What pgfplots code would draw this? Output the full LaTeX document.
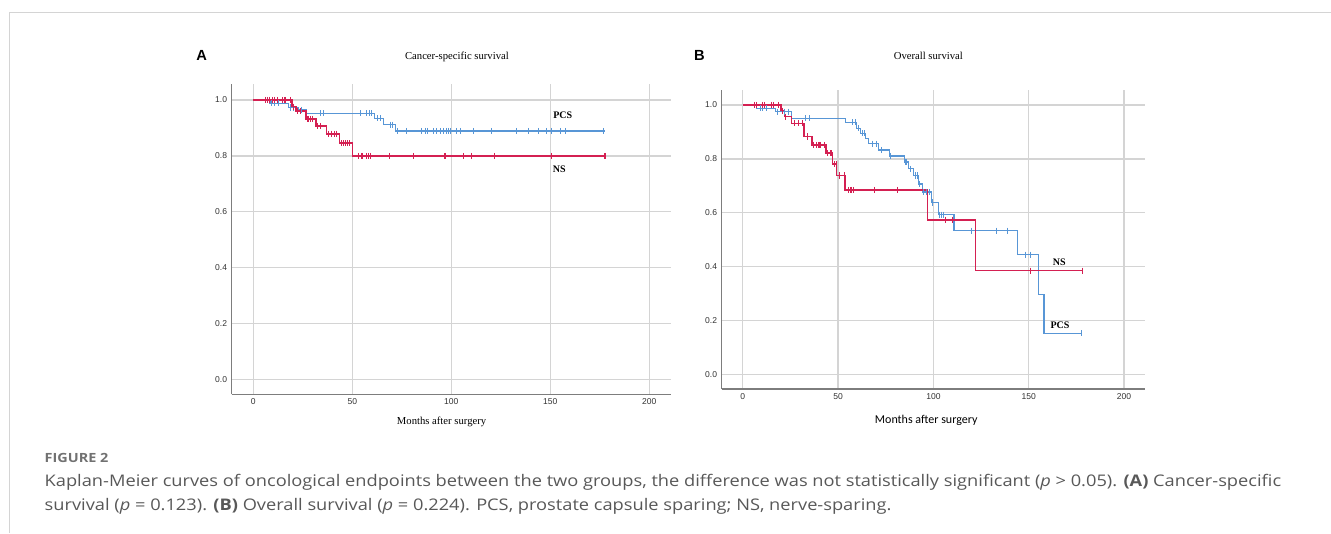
\documentclass[border=0pt]{standalone}
\usepackage{fontspec}
\setmainfont{Liberation Serif}
\newfontfamily\arialfont{Liberation Sans}
\newfontfamily\capfont[FakeStretch=1.14]{Open Sans}
\newfontfamily\calfont{Carlito}
\usepackage{pgfplots}
\pgfplotsset{compat=1.18}

\definecolor{pcsblue}{RGB}{88,150,214}
\definecolor{nsred}{RGB}{212,32,82}
\definecolor{gridgray}{RGB}{212,212,212}
\definecolor{axgray}{RGB}{125,125,125}
\definecolor{capgray}{RGB}{88,88,88}

\tikzset{grplabel/.style={font=\rmfamily\bfseries\fontsize{7.5}{8}\selectfont}}
\pgfplotsset{
  kmaxis/.style={
    scale only axis,
    axis x line=bottom, axis y line=left,
    axis line style={-, draw=axgray, line width=0.8pt},
    grid=major, major grid style={draw=gridgray, line width=1.1pt},
    major tick length=0pt,
    xtick={0,50,100,150,200}, ytick={0,0.2,0.4,0.6,0.8,1},
    tick label style={font=\arialfont\fontsize{6.4}{7}\selectfont, text=black!80},
    /pgf/number format/assume math mode=true,
    yticklabel style={/pgf/number format/fixed,
      /pgf/number format/fixed zerofill, /pgf/number format/precision=1},
  },
  pcsline/.style={pcsblue, line width=0.9pt, const plot},
  nsline/.style={nsred, line width=1.15pt, const plot},
  pcscens/.style={only marks, mark=|, mark size=2.3pt, pcsblue,
    mark options={line width=0.65pt}},
  nscens/.style={only marks, mark=|, mark size=2.3pt, nsred,
    mark options={line width=0.8pt}},
}

\begin{document}
\begin{tikzpicture}
\path[use as bounding box] (0,0) rectangle (998.25pt,-399.75pt);
\draw[gridgray, line width=0.9pt] (6.975pt,-399.75pt) -- (6.975pt,-9.2pt) -- (998.25pt,-9.2pt);

% ---------------- panel A: cancer-specific survival
\node[font=\arialfont\bfseries\fontsize{11}{12}\selectfont] at (151.3pt,-41.25pt) {A};
\begin{axis}[kmaxis,
  at={(173.8pt,-295.7pt)}, anchor=south west,
  width=329.25pt, height=232.7pt,
  xmin=-10.9, xmax=210.8, ymin=-0.053, ymax=1.057,
  title={Cancer-specific survival},
  title style={font=\rmfamily\fontsize{8}{9}\selectfont,
    at={(axis description cs:0.513,1)}, anchor=center, yshift=14.25pt},
  xlabel={Months after surgery},
  xlabel style={font=\rmfamily\fontsize{8}{9}\selectfont,
    at={(axis description cs:0.478,0)}, anchor=center, yshift=-20.6pt},
]
\addplot[pcsline] coordinates {(0,1.0) (8.4,0.988) (17.7,0.973) (22.7,0.964)
  (27,0.952) (61,0.935) (65.7,0.911) (71.6,0.889) (177.7,0.889)};
\addplot[pcscens] coordinates {(9.3,0.988) (10.9,0.988) (12.6,0.988)
  (18.5,0.973) (20.3,0.973) (24.5,0.964)
  (33.7,0.952) (35.4,0.952) (53.9,0.952) (57.2,0.952) (58.4,0.952) (59.8,0.952)
  (62.8,0.935) (64.1,0.935) (69.0,0.911) (70.2,0.911)
  (72.7,0.889) (77.1,0.889) (85.0,0.889) (86.7,0.889) (87.9,0.889) (90.9,0.889)
  (92.4,0.889) (94.3,0.889) (96.0,0.889) (97.3,0.889) (98.5,0.889) (99.3,0.889)
  (102.8,0.889) (104.4,0.889) (111.0,0.889) (120.0,0.889) (132.8,0.889)
  (138.8,0.889) (144.0,0.889) (147.8,0.889) (150.7,0.889) (154.9,0.889)
  (157.5,0.889) (176.8,0.889)};
\addplot[nsline] coordinates {(0,1.0) (19.6,0.976) (21.5,0.96) (26.5,0.932)
  (31.7,0.907) (37,0.879) (43.6,0.845) (50.2,0.80) (177.6,0.80)};
\addplot[nscens] coordinates {(6.2,1) (7.3,1) (8.3,1) (9.8,1) (10.9,1) (12.1,1)
  (14.8,1) (16.0,1) (18.6,1) (20.5,0.976) (22.4,0.96) (23.8,0.96)
  (27.6,0.932) (28.8,0.932) (30.0,0.932) (32.6,0.907) (33.8,0.907)
  (38.0,0.879) (39.5,0.879) (40.8,0.879) (42.0,0.879)
  (44.6,0.845) (45.5,0.845) (46.4,0.845) (47.4,0.845) (48.5,0.845)
  (53.2,0.8) (54.4,0.8) (55.3,0.8) (57.0,0.8) (58.2,0.8) (59.0,0.8) (69.0,0.8)
  (80.7,0.8) (96.8,0.8) (106.0,0.8) (110.0,0.8) (121.7,0.8) (150.7,0.8) (177.6,0.8)};
\node[grplabel] at (axis cs:156.3,0.945) {PCS};
\node[grplabel] at (axis cs:154.5,0.752) {NS};
\end{axis}

% ---------------- panel B: overall survival
\node[font=\arialfont\bfseries\fontsize{11}{12}\selectfont] at (524.5pt,-41.25pt) {B};
\begin{axis}[kmaxis,
  at={(541.3pt,-291.75pt)}, anchor=south west,
  width=317.5pt, height=224.25pt,
  xmin=-11.0, xmax=211.0, ymin=-0.0546, ymax=1.0557,
  title={Overall survival},
  title style={font=\rmfamily\fontsize{8}{9}\selectfont,
    at={(axis description cs:0.488,1)}, anchor=center, yshift=19.3pt},
  xlabel={Months after surgery},
  xlabel style={font=\calfont\fontsize{9}{10}\selectfont,
    at={(axis description cs:0.483,0)}, anchor=center, yshift=-23.25pt},
]
\addplot[pcsline] coordinates {(0,1) (7.3,0.988) (17,0.975) (25.7,0.951)
  (53.7,0.936) (59.8,0.914) (61.9,0.895) (64.5,0.877) (65.9,0.856) (71.2,0.833)
  (76.9,0.811) (84.8,0.788) (86.9,0.763) (89.5,0.738) (92.1,0.707) (94.2,0.677)
  (98.9,0.638) (102.6,0.593) (110.8,0.533) (144.1,0.444) (155,0.296)
  (158,0.152) (177.6,0.152)};
\addplot[pcscens] coordinates {(9.1,0.988) (10.5,0.988) (12.6,0.988)
  (18.2,0.975) (21.7,0.975) (24.0,0.975) (32.7,0.951) (35.0,0.951)
  (57.5,0.936) (59.3,0.936) (60.7,0.914) (62.9,0.895) (63.6,0.895)
  (68.2,0.856) (69.9,0.856) (72.9,0.833) (77.3,0.811) (85.2,0.788) (86.1,0.788)
  (87.8,0.763) (90.6,0.738) (91.6,0.738) (92.9,0.707)
  (94.8,0.677) (96.5,0.677) (97.9,0.677) (99.7,0.638)
  (103.1,0.593) (104.0,0.593) (105.0,0.593)
  (120.1,0.533) (133.0,0.533) (139.0,0.533) (148.0,0.444) (151.0,0.444)
  (177.6,0.152)};
\addplot[nsline] coordinates {(0,1) (20,0.979) (21.9,0.957) (25.7,0.932)
  (32.2,0.883) (36.2,0.852) (43.7,0.821) (47.2,0.781) (49.3,0.738) (53.7,0.685)
  (96.9,0.573) (122.1,0.385) (178.3,0.385)};
\addplot[nscens] coordinates {(6.1,1) (7.3,1) (10.5,1) (11.2,1) (15.2,1) (15.9,1)
  (18.7,1) (21.0,0.979) (22.6,0.957) (27.1,0.932) (29.2,0.932) (31.3,0.932)
  (33.9,0.883) (37.0,0.852) (38.8,0.852) (40.0,0.852) (40.9,0.852) (42.8,0.852)
  (44.6,0.821) (45.8,0.821) (46.7,0.821) (48.0,0.781) (49.0,0.781)
  (50.8,0.738) (53.2,0.738) (55.4,0.685) (56.8,0.685) (58.0,0.685) (69.0,0.685)
  (81.1,0.685) (106.1,0.573) (110.1,0.573) (150.7,0.385) (178.3,0.385)};
\node[grplabel] at (axis cs:166,0.418) {NS};
\node[grplabel] at (axis cs:166.4,0.181) {PCS};
\end{axis}

% ---------------- caption
\node[anchor=base west, font=\capfont\bfseries\fontsize{9.5}{12}\selectfont, text=capgray!85]
  at (30pt,-347pt) {FIGURE 2};
\node[anchor=base west, font=\capfont\fontsize{12}{14}\selectfont, text=capgray]
  at (30pt,-365pt) {Kaplan-Meier curves of oncological endpoints between the two groups, the difference was not statistically significant (\textit{p} > 0.05). \textbf{(A)} Cancer-specific};
\node[anchor=base west, font=\capfont\fontsize{12}{14}\selectfont, text=capgray]
  at (30pt,-382.5pt) {survival (\textit{p} = 0.123). \textbf{(B)} Overall survival (\textit{p} = 0.224). PCS, prostate capsule sparing; NS, nerve-sparing.};
\end{tikzpicture}
\end{document}
